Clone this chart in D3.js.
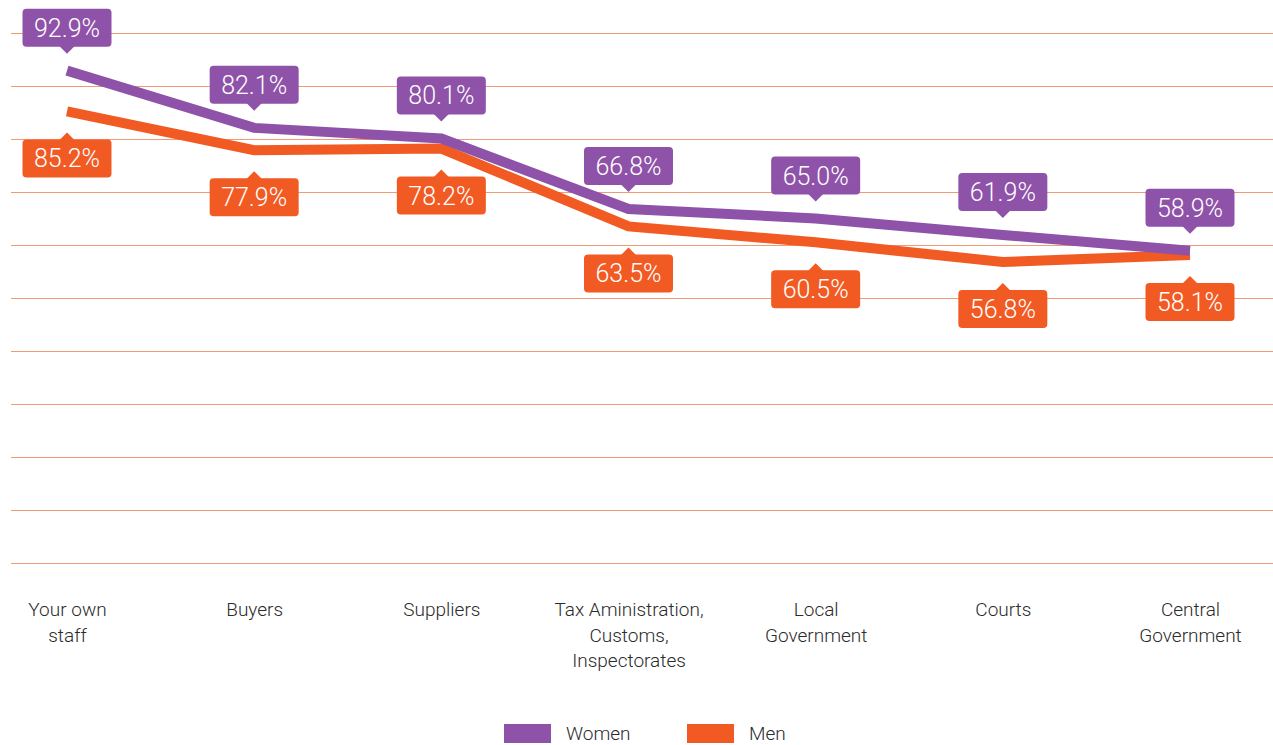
<!DOCTYPE html>
<html>
<head>
<meta charset="utf-8">
<script src="https://cdn.jsdelivr.net/npm/d3@7"></script>
<style>
  body { margin: 0; background: #fff; }
  text { font-family: Roboto, "Open Sans", sans-serif; font-weight: 300; }
</style>
</head>
<body>
<svg id="chart" width="1273" height="745"></svg>
<script>
// Categories (line breaks mark how the axis labels wrap)
const categories = [
  "Your own\nstaff",
  "Buyers",
  "Suppliers",
  "Tax Aministration,\nCustoms,\nInspectorates",
  "Local\nGovernment",
  "Courts",
  "Central\nGovernment"
];
const women = [92.9, 82.1, 80.1, 66.8, 65.0, 61.9, 58.9];
const men   = [85.2, 77.9, 78.2, 63.5, 60.5, 56.8, 58.1];
const gridValues = [0, 10, 20, 30, 40, 50, 60, 70, 80, 90, 100];
const seriesNames = ["Women", "Men"];
const seriesColors = ["#8E52A8", "#F15A22"];

const svg = d3.select("#chart");
const W = 1273;

const x = d3.scalePoint().domain(categories).range([67, 1190]);
const y = d3.scaleLinear().domain([0, 100]).range([563, 33]);

// Horizontal gridlines
svg.append("g")
  .attr("transform", "translate(11,0)")
  .call(d3.axisLeft(y).tickValues(gridValues).tickSize(-(W - 11)).tickFormat(""))
  .call(g => g.select(".domain").remove())
  .call(g => g.selectAll(".tick line").attr("stroke", "#F29A76").attr("stroke-width", 1));

// Category labels
const xAxis = svg.append("g")
  .attr("transform", "translate(0,598)")
  .call(d3.axisBottom(x).tickSize(0).tickFormat(""))
  .call(g => g.select(".domain").remove());
xAxis.selectAll(".tick").each(function(d) {
  const t = d3.select(this).append("text")
    .attr("text-anchor", "middle")
    .attr("fill", "#2b2b2b")
    .attr("font-size", 19);
  d.split("\n").forEach((line, i) => {
    t.append("tspan").attr("x", 0).attr("y", 18 + i * 25.5).text(line);
  });
});

const series = [
  { name: "Men", values: men, color: seriesColors[1], above: false },
  { name: "Women", values: women, color: seriesColors[0], above: true }
];

const line = d3.line()
  .x((d, i) => x(categories[i]))
  .y(d => y(d));

series.forEach(s => {
  svg.append("path")
    .datum(s.values)
    .attr("d", line)
    .attr("fill", "none")
    .attr("stroke", s.color)
    .attr("stroke-width", 10)
    .attr("stroke-linejoin", "miter")
    .attr("stroke-linecap", "butt");
});

// Value callouts
const boxW = 89, boxH = 38, tip = 7;
series.forEach(s => {
  const g = svg.append("g").selectAll("g")
    .data(s.values)
    .join("g")
    .attr("transform", (d, i) => `translate(${x(categories[i])},${y(d)})`);
  const tipY = s.above ? -17 : 21;
  const dir = s.above ? -1 : 1;
  const boxTop = s.above ? tipY - tip - boxH : tipY + tip;
  g.append("rect")
    .attr("x", -boxW / 2).attr("y", boxTop)
    .attr("width", boxW).attr("height", boxH)
    .attr("rx", 4)
    .attr("fill", s.color);
  g.append("path")
    .attr("d", `M${-8},${tipY + dir * (tip + 1)} L0,${tipY} L8,${tipY + dir * (tip + 1)} Z`)
    .attr("fill", s.color);
  g.append("text")
    .attr("x", 0)
    .attr("y", boxTop + boxH / 2 + 9)
    .attr("text-anchor", "middle")
    .attr("fill", "#fff")
    .attr("font-size", 25)
    .text(d => d.toFixed(1) + "%");
});

// Legend
const legend = svg.append("g").attr("transform", "translate(504,724)")
  .selectAll("g").data(seriesNames).join("g")
  .attr("transform", (d, i) => `translate(${i * 183},0)`);
legend.append("rect").attr("width", 47).attr("height", 19)
  .attr("fill", (d, i) => seriesColors[i]);
legend.append("text").attr("x", 62).attr("y", 16)
  .attr("font-size", 19).attr("fill", "#2b2b2b").text(d => d);
</script>
</body>
</html>
